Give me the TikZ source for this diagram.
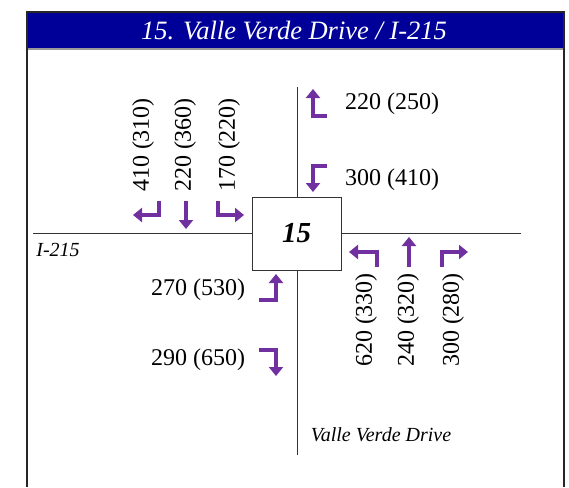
\documentclass[tikz,border=0pt]{standalone}
\usepackage{fontspec}
\setmainfont{Liberation Serif}
\usetikzlibrary{arrows.meta}
\definecolor{hdrblue}{HTML}{000099}
\definecolor{purp}{HTML}{7030A0}
\begin{document}
\begin{tikzpicture}[x=1pt,y=-1pt,
  mv/.style={draw=purp, line width=3.5pt, line join=miter, -{Triangle[width=14pt,length=9pt]}},
  vol/.style={font=\fontsize{24}{26}\selectfont, inner sep=0pt},
  volr/.style={vol, rotate=90},
  road/.style={draw=black!80, line width=1pt},
  rdname/.style={font=\fontsize{20}{22}\selectfont\itshape, inner sep=0pt}]
\useasboundingbox (0,0) rectangle (569,487);
% frame and header
\fill[hdrblue] (27,12) rectangle (564,49);
\draw[black!40, line width=1pt] (27,49) -- (564,49);
\draw[black!85, line width=2pt] (27,487) -- (27,12) -- (564,12) -- (564,487);
\node[font=\fontsize{26.5}{28}\selectfont\itshape, text=white, inner sep=0pt] (title) at (294,31) {15. Valle Verde Drive / I-215};
% roads
\coordinate (wend) at (33,233);
\coordinate (eend) at (521,233);
\coordinate (nend) at (297,87);
\coordinate (send) at (297,455);
\draw[road] (wend) -- (eend);
\draw[road] (nend) -- (send);
\node[draw=black!80, line width=1pt, fill=white, minimum width=89pt, minimum height=73pt, font=\fontsize{29}{30}\selectfont\bfseries\itshape] (ix) at (296.5,233.5) {15};
\node[rdname] (i215) at (58,250) {I-215};
\node[rdname] (vvd) at (381,435) {Valle Verde Drive};
% north approach (southbound)
\node[volr] (n1) at (143,145) {410 (310)};
\node[volr] (n2) at (185,145) {220 (360)};
\node[volr] (n3) at (229,145) {170 (220)};
\draw[mv] (159,201) -- (159,215) -- (133,215);
\draw[mv] (186,201) -- (186,229);
\draw[mv] (218,201) -- (218,215) -- (244,215);
% east approach (westbound)
\node[vol] (e1) at (392,104) {220 (250)};
\node[vol] (e2) at (392,180) {300 (410)};
\draw[mv] (327,116) -- (313,116) -- (313,89);
\draw[mv] (327,166) -- (313,166) -- (313,192);
% south approach (northbound)
\node[volr] (s1) at (366,320) {620 (330)};
\node[volr] (s2) at (408,320) {240 (320)};
\draw[mv] (377,267) -- (377,252) -- (349,252);
\draw[mv] (409,267) -- (409,237);
\draw[mv] (442,267) -- (442,252) -- (468,252);
\node[volr] (s3) at (453,320) {300 (280)};
% west approach (eastbound)
\node[vol] (w1) at (198,290) {270 (530)};
\node[vol] (w2) at (198,360) {290 (650)};
\draw[mv] (259,300) -- (276,300) -- (276,274);
\draw[mv] (259,350) -- (276,350) -- (276,376);
\end{tikzpicture}
\end{document}
